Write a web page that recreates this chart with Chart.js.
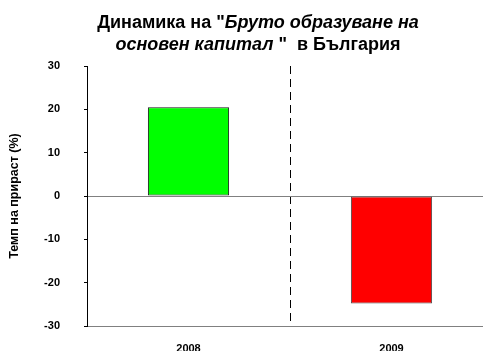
<!DOCTYPE html>
<html lang="bg">
<head>
  <meta charset="UTF-8" />
  <title>Динамика на Бруто образуване на основен капитал</title>
  <script src="https://cdn.jsdelivr.net/npm/chart.js"></script>
  <style>
    body {
      margin: 0;
      background: #fff;
      overflow: hidden;
    }

    canvas {
      display: block;
    }
  </style>
</head>
<body>
  <!-- a little wider than the window: the last category runs past the right edge -->
  <canvas id="capitalChart" width="493" height="351"></canvas>

  <script>
    const years = ['2008', '2009'];
    const growth = [20.5, -24.8];
    const barColors = ['#00ff00', '#ff0000'];
    const barBorders = ['#1a1a1a', '#4d4d4d'];

    const FONT = "'Liberation Sans', Arial, sans-serif";

    // two-line title, part of it in italic
    const titleLines = [
      [['bold', 'Динамика на "'], ['italic bold', 'Бруто образуване на']],
      [['italic bold', 'основен капитал '], ['bold', '"  в България']]
    ];

    const mixedTitle = {
      id: 'mixedTitle',
      afterDraw(chart) {
        const ctx = chart.ctx;
        const cx = 258;
        const baselines = [28, 50];
        ctx.save();
        ctx.fillStyle = '#000';
        ctx.textBaseline = 'alphabetic';
        ctx.textAlign = 'left';
        titleLines.forEach((parts, i) => {
          let total = 0;
          parts.forEach(([style, text]) => {
            ctx.font = `${style} 18px ${FONT}`;
            total += ctx.measureText(text).width;
          });
          let x = cx - total / 2;
          parts.forEach(([style, text]) => {
            ctx.font = `${style} 18px ${FONT}`;
            ctx.fillText(text, x, baselines[i]);
            x += ctx.measureText(text).width;
          });
        });
        ctx.restore();
      }
    };

    new Chart(document.getElementById('capitalChart'), {
      type: 'bar',
      data: {
        labels: years,
        datasets: [{
          data: growth,
          backgroundColor: barColors,
          borderColor: barBorders,
          borderWidth: 1,
          borderSkipped: false,
          categoryPercentage: 1,
          barPercentage: 0.4
        }]
      },
      options: {
        responsive: false,
        animation: false,
        devicePixelRatio: 1,
        layout: {
          padding: { top: 66, right: 0, left: 0, bottom: 0 }
        },
        plugins: {
          legend: { display: false },
          title: { display: false },
          tooltip: { enabled: false }
        },
        scales: {
          x: {
            afterFit(scale) { scale.height = 25; },
            grid: {
              offset: true,
              drawTicks: false,
              lineWidth: 1,
              color: ctx => ctx.index === 1 ? '#000' : 'rgba(0,0,0,0)'
            },
            border: {
              display: true,
              color: '#808080',
              width: 1,
              dash: [8, 5]
            },
            ticks: {
              color: '#000',
              padding: 16,
              font: { family: FONT, size: 11, weight: 'bold' }
            }
          },
          y: {
            min: -30,
            max: 30,
            afterFit(scale) {
              // fixed axis width; the wide tick padding must not shrink the plot
              scale.width = 87;
              scale.paddingTop = 0;
              scale.paddingBottom = 0;
            },
            grid: {
              color: ctx => ctx.tick && ctx.tick.value === 0 ? '#808080' : 'rgba(0,0,0,0)',
              tickColor: '#000',
              tickLength: 3,
              lineWidth: 1
            },
            border: {
              display: true,
              color: '#000',
              width: 1
            },
            ticks: {
              stepSize: 10,
              color: '#000',
              padding: 24,
              font: { family: FONT, size: 11, weight: 'bold' }
            },
            title: {
              display: true,
              text: 'Темп на прираст (%)',
              color: '#000',
              padding: { top: 7, bottom: 0 },
              font: { family: FONT, size: 12.5, weight: 'bold' }
            }
          }
        }
      },
      plugins: [mixedTitle]
    });
  </script>
</body>
</html>
